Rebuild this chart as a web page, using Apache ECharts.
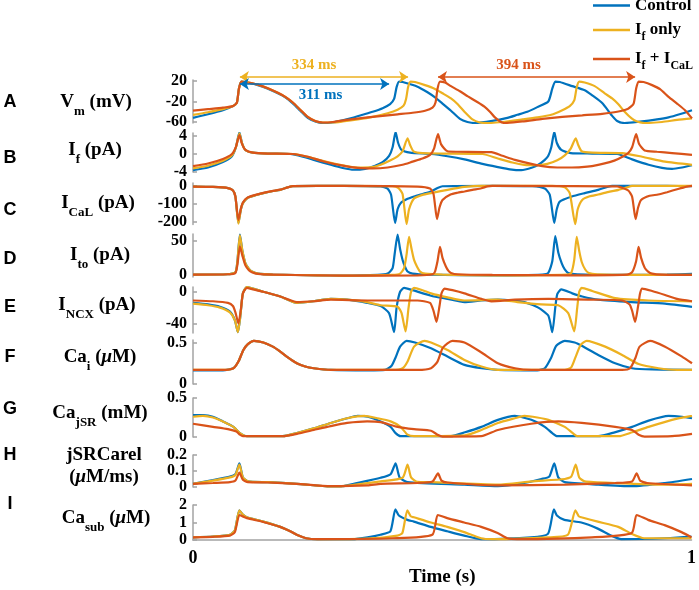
<!DOCTYPE html>
<html>
<head>
<meta charset="utf-8">
<script src="https://cdn.jsdelivr.net/npm/echarts@6/dist/echarts.min.js"></script>
<style>html,body{margin:0;background:#fff}#chart{width:699px;height:590px}</style>
</head>
<body>
<div id="chart"></div>
<script>
// [time (s), value] pairs
var vmControl = [[0,-52],[0.03,-45],[0.06,-37],[0.08,-29],[0.088,-22],[0.092,5],[0.097,19],[0.105,18],[0.13,12],[0.15,5],[0.17,-4],[0.185,-12],[0.2,-24],[0.215,-38],[0.23,-52],[0.245,-59],[0.26,-62],[0.28,-61],[0.3,-57],[0.32,-52],[0.34,-46],[0.36,-40],[0.38,-33],[0.395,-25],[0.403,-15],[0.408,8],[0.413,19],[0.42,18],[0.45,9],[0.47,-2],[0.485,-12],[0.5,-24],[0.517,-38],[0.535,-54],[0.55,-60],[0.565,-62],[0.6,-58],[0.63,-52],[0.65,-46],[0.67,-40],[0.69,-31],[0.712,-20],[0.72,5],[0.726,19],[0.735,18],[0.76,10],[0.785,2],[0.8,-8],[0.82,-23],[0.84,-48],[0.85,-58],[0.865,-62],[0.9,-59],[0.93,-55],[0.953,-51],[0.975,-45],[1.0,-37]];
var vmIf = [[0,-46],[0.03,-41],[0.06,-35],[0.08,-29],[0.088,-22],[0.092,5],[0.097,19],[0.105,18],[0.13,13],[0.15,6],[0.17,-3],[0.185,-11],[0.2,-22],[0.215,-36],[0.23,-50],[0.245,-58],[0.26,-61],[0.28,-61],[0.3,-59],[0.33,-55],[0.36,-50],[0.39,-43],[0.41,-36],[0.422,-28],[0.427,-15],[0.431,8],[0.436,19],[0.445,18],[0.465,12],[0.484,5],[0.5,-4],[0.517,-14],[0.53,-25],[0.544,-40],[0.56,-55],[0.575,-61],[0.59,-62],[0.62,-60],[0.66,-55],[0.69,-51],[0.718,-46],[0.74,-37],[0.755,-29],[0.764,-18],[0.769,8],[0.774,19],[0.785,17],[0.805,10],[0.825,-4],[0.84,-14],[0.852,-25],[0.865,-40],[0.879,-53],[0.89,-59],[0.905,-62],[0.94,-60],[0.97,-56],[1.0,-53]];
var vmIfCaL = [[0,-38],[0.03,-35],[0.06,-32],[0.08,-29],[0.088,-22],[0.092,5],[0.097,19],[0.105,18],[0.13,13],[0.15,6],[0.17,-3],[0.185,-11],[0.2,-22],[0.215,-36],[0.23,-50],[0.245,-58],[0.26,-61],[0.28,-60],[0.316,-55],[0.35,-51],[0.38,-48],[0.41,-45],[0.44,-42],[0.465,-38],[0.48,-32],[0.486,-22],[0.49,5],[0.495,19],[0.505,17],[0.517,10],[0.535,0],[0.551,-10],[0.568,-20],[0.584,-30],[0.595,-40],[0.604,-50],[0.614,-58],[0.624,-62],[0.66,-59],[0.7,-54],[0.74,-50],[0.78,-47],[0.82,-44],[0.85,-40],[0.872,-34],[0.883,-24],[0.888,5],[0.893,19],[0.903,18],[0.92,12],[0.936,4],[0.953,-11],[0.97,-24],[0.986,-37],[1.0,-53]];

var ifControl = [[0,-3.6],[0.03,-3.0],[0.06,-1.8],[0.078,-0.5],[0.086,1.5],[0.093,4.8],[0.098,2.5],[0.105,0.9],[0.12,0.3],[0.15,0.1],[0.195,0],[0.22,-0.6],[0.242,-1.3],[0.276,-2.4],[0.3,-3.1],[0.322,-3.5],[0.345,-3.3],[0.365,-2.6],[0.38,-1.8],[0.393,-0.4],[0.4,1.5],[0.406,4.9],[0.411,2.5],[0.418,0.9],[0.435,0.3],[0.477,0],[0.51,-0.5],[0.544,-1.2],[0.58,-2.2],[0.611,-2.9],[0.635,-3.4],[0.658,-3.6],[0.68,-3.0],[0.692,-2.4],[0.705,-1.3],[0.712,-0.4],[0.718,1.5],[0.724,4.9],[0.729,2.5],[0.738,0.9],[0.757,0.2],[0.8,0.1],[0.85,0],[0.88,-1.2],[0.913,-2.4],[0.94,-3.1],[0.96,-3.3],[0.98,-3.0],[1.0,-2.5]];
var ifIf = [[0,-3.2],[0.03,-2.6],[0.06,-1.5],[0.078,-0.3],[0.086,1.5],[0.093,4.6],[0.098,2.5],[0.105,0.9],[0.12,0.3],[0.15,0.1],[0.2,0],[0.23,-0.6],[0.26,-1.5],[0.3,-2.5],[0.33,-3.0],[0.36,-2.9],[0.376,-2.4],[0.396,-1.4],[0.41,-0.5],[0.42,0.6],[0.43,3.5],[0.435,2.0],[0.442,0.6],[0.46,0.2],[0.5,0.1],[0.58,0],[0.611,-1.0],[0.64,-1.9],[0.664,-2.4],[0.69,-2.5],[0.71,-2.2],[0.73,-1.4],[0.745,-0.3],[0.757,1.2],[0.767,3.5],[0.772,2.0],[0.779,0.6],[0.8,0.3],[0.86,0.2],[0.9,-0.6],[0.946,-1.7],[1.0,-2.4]];
var ifIfCaL = [[0,-2.7],[0.03,-2.1],[0.06,-1.1],[0.078,0],[0.086,1.6],[0.093,4.2],[0.098,2.3],[0.105,0.9],[0.12,0.3],[0.15,0.1],[0.2,0],[0.23,-0.6],[0.26,-1.6],[0.3,-2.6],[0.33,-3.1],[0.36,-3.2],[0.39,-3.0],[0.42,-2.4],[0.44,-1.7],[0.46,-1.0],[0.475,-0.2],[0.483,1.2],[0.491,4.4],[0.497,2.2],[0.51,0.6],[0.53,0.5],[0.598,0.4],[0.62,-0.4],[0.645,-1.3],[0.7,-2.7],[0.73,-3.0],[0.759,-3.0],[0.79,-2.8],[0.812,-2.4],[0.835,-1.8],[0.852,-1.1],[0.872,0.2],[0.88,1.5],[0.888,4.4],[0.894,2.2],[0.905,0.8],[0.93,0.5],[0.96,0.2],[1.0,-0.2]];

var icalControl = [[0,-4],[0.04,-6],[0.07,-12],[0.08,-25],[0.085,-60],[0.091,-206],[0.096,-130],[0.1,-96],[0.109,-67],[0.125,-52],[0.141,-40],[0.158,-30],[0.175,-22],[0.19,-8],[0.2,-1],[0.3,0],[0.376,-3],[0.39,-15],[0.397,-50],[0.405,-206],[0.41,-130],[0.416,-96],[0.43,-72],[0.443,-59],[0.46,-45],[0.477,-31],[0.49,-12],[0.5,-2],[0.6,0],[0.68,-2],[0.705,-15],[0.715,-50],[0.724,-206],[0.729,-130],[0.735,-87],[0.759,-59],[0.785,-40],[0.812,-22],[0.83,-6],[0.84,0],[0.95,0],[1.0,-2]];
var icalIf = [[0,-4],[0.04,-6],[0.07,-12],[0.08,-25],[0.085,-60],[0.091,-210],[0.096,-130],[0.1,-96],[0.109,-67],[0.125,-52],[0.141,-40],[0.158,-30],[0.175,-22],[0.19,-8],[0.2,-1],[0.3,0],[0.4,-2],[0.412,-12],[0.42,-45],[0.428,-212],[0.433,-130],[0.443,-70],[0.46,-50],[0.477,-40],[0.51,-22],[0.544,-6],[0.578,0],[0.72,0],[0.745,-8],[0.755,-40],[0.766,-212],[0.771,-130],[0.78,-78],[0.795,-58],[0.812,-48],[0.835,-32],[0.853,-22],[0.87,-8],[0.88,0],[1.0,0]];
var icalIfCaL = [[0,-4],[0.04,-6],[0.07,-12],[0.08,-25],[0.085,-60],[0.091,-190],[0.096,-125],[0.1,-92],[0.109,-65],[0.125,-50],[0.141,-39],[0.158,-29],[0.175,-21],[0.19,-8],[0.2,-1],[0.3,0],[0.45,-4],[0.475,-15],[0.482,-45],[0.489,-185],[0.494,-120],[0.5,-78],[0.516,-48],[0.53,-38],[0.544,-31],[0.56,-22],[0.578,-13],[0.59,-3],[0.6,0],[0.85,-3],[0.872,-25],[0.88,-60],[0.887,-185],[0.892,-120],[0.898,-78],[0.915,-55],[0.932,-48],[0.95,-35],[0.972,-17],[0.99,-4],[1.0,0]];

var itoControl = [[0,0.5],[0.07,1],[0.085,4],[0.089,20],[0.094,59],[0.099,35],[0.105,17],[0.112,9],[0.118,5],[0.13,2],[0.16,0.5],[0.25,-0.5],[0.3,-1],[0.37,0],[0.39,2],[0.4,10],[0.404,30],[0.41,59],[0.415,38],[0.42,22],[0.425,12],[0.43,5],[0.44,2],[0.47,0.5],[0.6,-0.5],[0.7,0.5],[0.712,3],[0.72,20],[0.726,57],[0.732,33],[0.739,17],[0.745,8],[0.752,3],[0.77,1],[0.85,0],[0.95,0.5],[1.0,1.5]];
var itoIf = [[0,0.5],[0.07,1],[0.085,4],[0.089,20],[0.094,58],[0.099,35],[0.105,17],[0.112,9],[0.118,5],[0.13,2],[0.16,0.5],[0.25,-0.5],[0.3,-1],[0.4,0],[0.415,2],[0.423,10],[0.428,30],[0.433,56],[0.438,38],[0.443,22],[0.449,12],[0.455,5],[0.465,2],[0.5,0.5],[0.6,-0.5],[0.75,0.5],[0.758,3],[0.764,22],[0.769,56],[0.774,35],[0.779,19],[0.786,8],[0.793,3],[0.81,1],[0.9,0],[1.0,0]];
var itoIfCaL = [[0,0.5],[0.07,1],[0.085,3],[0.089,15],[0.094,42],[0.099,28],[0.105,14],[0.112,7],[0.118,4],[0.13,1.5],[0.16,0.5],[0.3,-1],[0.45,-0.5],[0.48,1],[0.485,5],[0.49,20],[0.495,41],[0.5,25],[0.507,12],[0.512,6],[0.517,3],[0.53,1],[0.6,0],[0.75,-0.5],[0.87,0.5],[0.88,4],[0.888,20],[0.893,41],[0.898,25],[0.905,11],[0.912,5],[0.92,2],[0.94,0.5],[1.0,0]];

var incxControl = [[0,-14],[0.03,-16],[0.054,-19],[0.074,-25],[0.084,-36],[0.09,-51],[0.095,-30],[0.1,-2],[0.108,6],[0.12,4],[0.141,0],[0.175,-6],[0.208,-14],[0.242,-12],[0.276,-9],[0.309,-10],[0.349,-14],[0.376,-18],[0.393,-27],[0.403,-51],[0.408,-20],[0.415,0],[0.423,5],[0.44,2],[0.477,-5],[0.51,-9],[0.544,-13],[0.578,-11],[0.611,-10],[0.64,-11],[0.664,-13],[0.692,-20],[0.712,-30],[0.72,-51],[0.726,-20],[0.73,-3],[0.738,3],[0.76,-2],[0.78,-6],[0.812,-10],[0.879,-13],[0.946,-15],[1.0,-19]];
var incxIf = [[0,-15],[0.03,-17],[0.054,-20],[0.074,-26],[0.084,-36],[0.09,-51],[0.095,-30],[0.1,-2],[0.108,6],[0.12,4],[0.141,0],[0.175,-6],[0.208,-14],[0.242,-12],[0.276,-9],[0.309,-10],[0.349,-13],[0.376,-17],[0.41,-19],[0.418,-27],[0.426,-50],[0.432,-20],[0.437,0],[0.443,5],[0.46,2],[0.477,-2],[0.51,-7],[0.544,-11],[0.611,-10],[0.65,-13],[0.698,-16],[0.732,-17],[0.752,-27],[0.764,-50],[0.77,-20],[0.774,0],[0.779,5],[0.8,1],[0.846,-8],[0.913,-11],[1.0,-12]];
var incxIfCaL = [[0,-11],[0.04,-12],[0.07,-14],[0.08,-18],[0.085,-26],[0.091,-40],[0.096,-22],[0.1,-2],[0.108,5],[0.12,3],[0.141,0],[0.175,-6],[0.208,-13],[0.242,-12],[0.276,-10],[0.35,-11],[0.45,-11],[0.475,-14],[0.482,-24],[0.488,-38],[0.494,-18],[0.498,-2],[0.504,4],[0.52,2],[0.544,-2],[0.578,-9],[0.598,-12],[0.645,-10],[0.712,-9],[0.8,-10],[0.86,-11],[0.875,-16],[0.88,-24],[0.886,-38],[0.892,-18],[0.896,-2],[0.9,4],[0.92,1],[0.946,-4],[0.97,-9],[1.0,-12]];

var caiControl = [[0,0.165],[0.06,0.165],[0.081,0.19],[0.091,0.27],[0.101,0.41],[0.11,0.48],[0.122,0.52],[0.141,0.5],[0.16,0.45],[0.175,0.39],[0.19,0.32],[0.208,0.25],[0.225,0.21],[0.242,0.19],[0.276,0.17],[0.35,0.165],[0.385,0.17],[0.398,0.22],[0.406,0.32],[0.415,0.45],[0.428,0.52],[0.445,0.5],[0.477,0.43],[0.51,0.33],[0.544,0.23],[0.578,0.19],[0.611,0.17],[0.69,0.165],[0.705,0.19],[0.718,0.32],[0.728,0.46],[0.745,0.52],[0.765,0.5],[0.779,0.46],[0.812,0.35],[0.846,0.25],[0.88,0.19],[0.92,0.175],[1.0,0.17]];
var caiIf = [[0,0.17],[0.06,0.17],[0.081,0.19],[0.091,0.27],[0.101,0.41],[0.11,0.48],[0.122,0.52],[0.141,0.5],[0.16,0.45],[0.175,0.39],[0.19,0.32],[0.208,0.25],[0.225,0.21],[0.242,0.19],[0.276,0.17],[0.4,0.17],[0.42,0.19],[0.43,0.27],[0.443,0.45],[0.464,0.52],[0.477,0.5],[0.51,0.41],[0.544,0.29],[0.578,0.21],[0.611,0.17],[0.745,0.17],[0.758,0.2],[0.767,0.33],[0.777,0.47],[0.789,0.52],[0.826,0.45],[0.86,0.35],[0.893,0.24],[0.933,0.19],[0.97,0.17],[1.0,0.17]];
var caiIfCaL = [[0,0.17],[0.06,0.17],[0.081,0.19],[0.091,0.27],[0.101,0.41],[0.11,0.48],[0.122,0.52],[0.141,0.5],[0.16,0.45],[0.175,0.39],[0.19,0.32],[0.208,0.25],[0.225,0.21],[0.242,0.19],[0.276,0.17],[0.45,0.17],[0.477,0.19],[0.49,0.27],[0.5,0.43],[0.51,0.49],[0.52,0.52],[0.544,0.5],[0.578,0.38],[0.611,0.25],[0.645,0.19],[0.678,0.17],[0.86,0.17],[0.876,0.19],[0.887,0.32],[0.895,0.45],[0.916,0.52],[0.946,0.45],[0.98,0.33],[1.0,0.25]];

var cajsrControl = [[0,0.28],[0.02,0.28],[0.04,0.26],[0.06,0.2],[0.081,0.13],[0.094,0.05],[0.108,0.01],[0.18,0.01],[0.208,0.05],[0.242,0.11],[0.276,0.18],[0.309,0.24],[0.33,0.27],[0.35,0.26],[0.376,0.2],[0.396,0.13],[0.406,0.05],[0.416,0.01],[0.517,0.01],[0.545,0.06],[0.578,0.13],[0.611,0.22],[0.645,0.27],[0.678,0.22],[0.705,0.13],[0.72,0.05],[0.73,0.01],[0.812,0.01],[0.845,0.06],[0.88,0.13],[0.913,0.21],[0.953,0.27],[0.98,0.26],[1.0,0.24]];
var cajsrIf = [[0,0.26],[0.02,0.27],[0.04,0.25],[0.06,0.2],[0.081,0.13],[0.094,0.05],[0.108,0.01],[0.18,0.01],[0.208,0.05],[0.242,0.11],[0.276,0.18],[0.309,0.24],[0.343,0.27],[0.37,0.24],[0.396,0.2],[0.416,0.13],[0.43,0.03],[0.443,0.01],[0.545,0.02],[0.578,0.09],[0.611,0.18],[0.645,0.24],[0.664,0.27],[0.69,0.25],[0.712,0.22],[0.745,0.13],[0.761,0.05],[0.77,0.01],[0.853,0.01],[0.88,0.06],[0.913,0.13],[0.96,0.22],[1.0,0.27]];
var cajsrIfCaL = [[0,0.17],[0.04,0.13],[0.07,0.1],[0.087,0.07],[0.094,0.03],[0.1,0.01],[0.18,0.01],[0.208,0.04],[0.242,0.09],[0.276,0.14],[0.309,0.18],[0.349,0.2],[0.376,0.19],[0.41,0.13],[0.443,0.1],[0.477,0.08],[0.49,0.03],[0.5,0.005],[0.578,0.01],[0.611,0.09],[0.678,0.17],[0.732,0.2],[0.779,0.18],[0.846,0.13],[0.88,0.09],[0.893,0.03],[0.905,0.005],[0.96,0.01],[1.0,0.04]];

var relControl = [[0,0.02],[0.04,0.044],[0.074,0.065],[0.085,0.08],[0.093,0.148],[0.1,0.06],[0.11,0.035],[0.15,0.03],[0.208,0.02],[0.276,0.003],[0.3,0.005],[0.322,0.02],[0.376,0.058],[0.396,0.08],[0.406,0.148],[0.414,0.06],[0.43,0.03],[0.544,0.015],[0.611,0.005],[0.664,0.025],[0.698,0.05],[0.714,0.065],[0.724,0.148],[0.732,0.06],[0.745,0.03],[0.812,0.015],[0.88,0.005],[0.946,0.025],[1.0,0.05]];
var relIf = [[0,0.02],[0.04,0.04],[0.074,0.06],[0.085,0.075],[0.093,0.14],[0.1,0.06],[0.11,0.035],[0.15,0.03],[0.208,0.02],[0.276,0.003],[0.3,0.005],[0.376,0.035],[0.42,0.058],[0.43,0.14],[0.437,0.06],[0.45,0.032],[0.477,0.03],[0.611,0.015],[0.678,0.035],[0.745,0.05],[0.758,0.065],[0.767,0.14],[0.774,0.06],[0.785,0.035],[0.846,0.025],[0.946,0.015],[1.0,0.02]];
var relIfCaL = [[0,0.02],[0.04,0.025],[0.074,0.03],[0.085,0.04],[0.093,0.09],[0.1,0.045],[0.11,0.03],[0.15,0.028],[0.208,0.02],[0.276,0.005],[0.35,0.01],[0.376,0.02],[0.45,0.025],[0.48,0.035],[0.491,0.085],[0.498,0.04],[0.51,0.028],[0.611,0.01],[0.745,0.015],[0.846,0.025],[0.88,0.035],[0.889,0.085],[0.896,0.04],[0.91,0.025],[1.0,0.01]];

var casubControl = [[0,0.15],[0.04,0.2],[0.074,0.3],[0.084,0.55],[0.093,1.7],[0.1,1.45],[0.108,1.3],[0.141,1.05],[0.175,0.75],[0.195,0.5],[0.208,0.3],[0.227,0.1],[0.25,0.05],[0.32,0.05],[0.35,0.15],[0.376,0.3],[0.396,0.5],[0.406,1.75],[0.413,1.4],[0.43,1.15],[0.443,1.05],[0.477,0.75],[0.51,0.5],[0.544,0.25],[0.578,0.05],[0.678,0.15],[0.712,0.35],[0.724,1.75],[0.73,1.4],[0.745,1.15],[0.779,1.0],[0.812,0.65],[0.839,0.25],[0.859,0.05],[0.946,0.1],[1.0,0.2]];
var casubIf = [[0,0.15],[0.04,0.2],[0.074,0.3],[0.084,0.55],[0.093,1.7],[0.1,1.45],[0.108,1.3],[0.141,1.05],[0.175,0.75],[0.195,0.5],[0.208,0.3],[0.227,0.1],[0.25,0.05],[0.35,0.08],[0.41,0.25],[0.42,0.4],[0.43,1.7],[0.437,1.35],[0.443,1.3],[0.477,1.0],[0.51,0.75],[0.544,0.45],[0.578,0.1],[0.6,0.05],[0.712,0.15],[0.752,0.3],[0.767,1.7],[0.774,1.35],[0.779,1.3],[0.812,1.05],[0.853,0.75],[0.88,0.35],[0.905,0.1],[1.0,0.1]];
var casubIfCaL = [[0,0.15],[0.04,0.18],[0.074,0.25],[0.084,0.45],[0.093,1.43],[0.1,1.35],[0.108,1.25],[0.141,1.03],[0.175,0.75],[0.195,0.5],[0.208,0.3],[0.227,0.1],[0.25,0.05],[0.4,0.1],[0.48,0.3],[0.491,1.43],[0.51,1.25],[0.544,1.0],[0.578,0.75],[0.611,0.4],[0.631,0.1],[0.65,0.05],[0.8,0.15],[0.88,0.4],[0.89,1.43],[0.913,1.15],[0.946,0.85],[0.98,0.45],[1.0,0.15]];

var conditions = ['Control', 'If only', 'If + ICaL'];
var colors = ['#0072BD', '#EDB120', '#D95319'];
var panelData = [
  [vmControl, vmIf, vmIfCaL],
  [ifControl, ifIf, ifIfCaL],
  [icalControl, icalIf, icalIfCaL],
  [itoControl, itoIf, itoIfCaL],
  [incxControl, incxIf, incxIfCaL],
  [caiControl, caiIf, caiIfCaL],
  [cajsrControl, cajsrIf, cajsrIfCaL],
  [relControl, relIf, relIfCaL],
  [casubControl, casubIf, casubIfCaL]
];
var panelLetters = ['A', 'B', 'C', 'D', 'E', 'F', 'G', 'H', 'I'];
var panelNames = [
  '{n|V}{s|m}{n| (mV)}',
  '{n|I}{s|f}{n| (pA)}',
  '{n|I}{s|CaL}{n| (pA)}',
  '{n|I}{s|to}{n| (pA)}',
  '{n|I}{s|NCX}{n| (pA)}',
  '{n|Ca}{s|i}{n| (}{i|\u03bc}{n|M)}',
  '{n|Ca}{s|jSR}{n| (mM)}',
  '{n|jSRCarel}\n{n|(}{i|\u03bc}{n|M/ms)}',
  '{n|Ca}{s|sub}{n| (}{i|\u03bc}{n|M)}'
];
var yMin = [-62, -4, -215, -3, -52, 0, 0, 0, 0];
var yMax = [22, 4.67, 16, 60, 6, 0.53, 0.5, 0.2, 2];
var yTicks = [[-60, -20, 20], [-4, 0, 4], [-200, -100, 0], [0, 50], [-40, 0], [0, 0.5], [0, 0.5], [0, 0.1, 0.2], [0, 1, 2]];
var xTicks = [0, 1];
// cycle-length arrows in panel A: start, end (s), label
var arrowStart = [0.094, 0.094, 0.491];
var arrowEnd = [0.431, 0.393, 0.886];
var arrowLabels = ['334 ms', '311 ms', '394 ms'];
var arrowColors = ['#EDB120', '#0072BD', '#D95319'];

// layout (pixels)
var gridLeft = 193, gridRight = 7;
var panelTop = [80, 133, 183, 234, 287, 340, 398, 455, 505];
var panelHeight = [43, 39, 41.6, 43, 46, 44, 39, 32, 35];
var nameX = [96, 95, 98, 100, 97, 100, 100, 104, 106];
var nameY = [102, 150, 203, 255, 305, 357, 413, 466, 518];
var letterY = [102.5, 158, 210, 259, 307, 357, 409, 455, 504];
var arrowRow = [28, 21, 28];
var arrowLabelPos = ['insideMiddleTop', 'insideMiddleBottom', 'insideMiddleTop'];
var arrowLabelShift = [-10, 6, -18];

var serif = '"Liberation Serif", "Times New Roman", serif';
var axisGrey = '#a3a3a3';

var richZ = {
  n: {fontFamily: serif, fontWeight: 'bold', fontSize: 19, lineHeight: 22, fill: '#000'},
  s: {fontFamily: serif, fontWeight: 'bold', fontSize: 13, lineHeight: 22, padding: [20, 0, 0, 0], fill: '#000'},
  i: {fontFamily: serif, fontWeight: 'bold', fontStyle: 'italic', fontSize: 19, lineHeight: 22, fill: '#000'}
};

var grids = [], xAxes = [], yAxes = [], series = [], graphics = [];
panelData.forEach(function (set, i) {
  grids.push({left: gridLeft, right: gridRight, top: panelTop[i], height: panelHeight[i]});
  var last = i === panelData.length - 1;
  xAxes.push({
    gridIndex: i, type: 'value', min: 0, max: 1, show: last,
    axisLine: {onZero: false, lineStyle: {color: axisGrey, width: 1.5}},
    axisTick: {show: false},
    splitLine: {show: false},
    axisLabel: {customValues: xTicks, color: '#000', fontFamily: serif, fontWeight: 'bold', fontSize: 18, margin: 9},
    name: last ? 'Time (s)' : '',
    nameLocation: 'middle', nameGap: 27,
    nameTextStyle: {color: '#000', fontFamily: serif, fontWeight: 'bold', fontSize: 19}
  });
  yAxes.push({
    gridIndex: i, type: 'value', min: yMin[i], max: yMax[i],
    axisLine: {show: true, onZero: false, lineStyle: {color: axisGrey, width: 1.5}},
    axisTick: {show: true, inside: true, length: 4, customValues: yTicks[i], lineStyle: {color: axisGrey, width: 1.5}},
    axisLabel: {customValues: yTicks[i], color: '#000', fontFamily: serif, fontWeight: 'bold', fontSize: 16, margin: 6},
    splitLine: {show: false}
  });
  set.forEach(function (d, c) {
    series.push({
      type: 'line', name: conditions[c], xAxisIndex: i, yAxisIndex: i, data: d,
      symbol: 'none', smooth: 0.2, z: 2 + c,
      lineStyle: {width: 2.2, color: colors[c]}, itemStyle: {color: colors[c]}
    });
  });
  graphics.push({
    type: 'text', x: 10, y: letterY[i],
    style: {text: panelLetters[i], align: 'center', verticalAlign: 'middle',
      font: 'bold 18px "Liberation Sans", Arial, sans-serif', fill: '#000'}
  });
  graphics.push({
    type: 'text', x: nameX[i], y: nameY[i],
    style: {text: panelNames[i], rich: richZ, align: 'center', verticalAlign: 'middle'}
  });
});

// overlay grid for the cycle-length arrows above panel A
grids.push({left: gridLeft, right: gridRight, top: 55, height: 50});
xAxes.push({gridIndex: 9, type: 'value', min: 0, max: 1, show: false});
yAxes.push({gridIndex: 9, type: 'value', min: 0, max: 50, show: false});
series.push({
  type: 'line', xAxisIndex: 9, yAxisIndex: 9, data: [], silent: true,
  markLine: {
    silent: true, symbol: ['arrow', 'arrow'], symbolSize: 9, animation: false,
    emphasis: {disabled: true},
    data: arrowLabels.map(function (lab, k) {
      return [
        {coord: [arrowStart[k], arrowRow[k]],
          lineStyle: {color: arrowColors[k], width: 1.6, type: 'solid'},
          label: {show: true, formatter: lab, position: arrowLabelPos[k], distance: 4, offset: [arrowLabelShift[k], 0],
            color: arrowColors[k], fontFamily: serif, fontWeight: 'bold', fontSize: 15}},
        {coord: [arrowEnd[k], arrowRow[k]]}
      ];
    })
  }
});

var chart = echarts.init(document.getElementById('chart'));
chart.setOption({
  animation: false,
  backgroundColor: '#fff',
  grid: grids,
  xAxis: xAxes,
  yAxis: yAxes,
  legend: {
    data: conditions, orient: 'vertical', left: 593, top: -3, padding: 0,
    icon: 'rect', itemWidth: 37, itemHeight: 2.5, itemGap: 3, selectedMode: false,
    formatter: function (name) {
      if (name === 'Control') return '{n|Control}';
      if (name === 'If only') return '{n|I}{s|f}{n| only}';
      return '{n|I}{s|f}{n| + I}{s|CaL}';
    },
    textStyle: {
      rich: {
        n: {fontFamily: serif, fontWeight: 'bold', fontSize: 17, lineHeight: 22, color: '#000'},
        s: {fontFamily: serif, fontWeight: 'bold', fontSize: 12, lineHeight: 22, padding: [14, 0, 0, 0], color: '#000'}
      }
    }
  },
  graphic: graphics,
  series: series
});
</script>
</body>
</html>
